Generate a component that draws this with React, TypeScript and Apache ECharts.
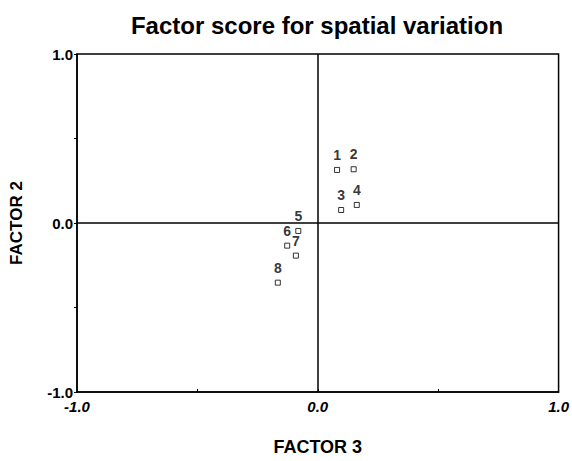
import React, { useEffect, useRef } from "react";
import * as echarts from "echarts";

const pointLabels = ["1", "2", "3", "4", "5", "6", "7", "8"];
const factor3 = [0.08, 0.149, 0.097, 0.162, -0.081, -0.127, -0.091, -0.166];
const factor2 = [0.314, 0.318, 0.077, 0.107, -0.047, -0.134, -0.193, -0.353];
const axisTicks = [-1, -0.5, 0, 0.5, 1];

const FONT = "'Liberation Sans', Arial, Helvetica, sans-serif";

export default function App() {
  const ref = useRef<HTMLDivElement>(null);
  useEffect(() => {
    if (!ref.current) return;
    const chart = echarts.init(ref.current, null, { renderer: "svg" });
    const data = pointLabels.map((n, i) => ({ name: n, value: [factor3[i], factor2[i]] }));
    const fmt = (v: number) => (Math.abs(v % 1) < 1e-9 ? v.toFixed(1) : "");
    chart.setOption({
      animation: false,
      backgroundColor: "#fff",
      title: {
        text: "Factor score for spatial variation",
        left: 312,
        textAlign: "center",
        top: 8,
        textStyle: { fontFamily: FONT, fontSize: 24, fontWeight: "bold", color: "#000" },
      },
      grid: {
        left: 73,
        right: 12,
        top: 54,
        bottom: 69,
        show: true,
        borderColor: "#000",
        borderWidth: 1.5,
        backgroundColor: "transparent",
      },
      xAxis: {
        type: "value",
        min: axisTicks[0],
        max: axisTicks[axisTicks.length - 1],
        interval: 0.5,
        name: "FACTOR 3",
        nameLocation: "middle",
        nameGap: 46,
        nameTextStyle: { fontFamily: FONT, fontSize: 18, fontWeight: "bold", color: "#000" },
        axisLine: { onZero: false, lineStyle: { color: "#000", width: 1.5 } },
        axisTick: { show: true, length: 3, inside: true, lineStyle: { color: "#000" } },
        splitLine: { show: false },
        axisLabel: {
          formatter: fmt,
          fontFamily: FONT,
          fontSize: 15,
          fontWeight: "bold",
          fontStyle: "italic",
          color: "#000",
          margin: 7,
        },
      },
      yAxis: {
        type: "value",
        min: axisTicks[0],
        max: axisTicks[axisTicks.length - 1],
        interval: 0.5,
        name: "FACTOR 2",
        nameLocation: "middle",
        nameGap: 52,
        nameTextStyle: { fontFamily: FONT, fontSize: 17, fontWeight: "bold", color: "#000" },
        axisLine: { onZero: false, lineStyle: { color: "#000", width: 1.5 } },
        axisTick: { show: true, length: 3, lineStyle: { color: "#000" } },
        splitLine: { show: false },
        axisLabel: {
          formatter: fmt,
          fontFamily: FONT,
          fontSize: 15,
          fontWeight: "bold",
          color: "#000",
          margin: 4,
        },
      },
      series: [
        {
          type: "scatter",
          data,
          symbol: "rect",
          symbolSize: 5,
          itemStyle: { color: "#fff", borderColor: "#000", borderWidth: 1 },
          label: {
            show: true,
            position: "top",
            distance: 5,
            formatter: "{b}",
            fontFamily: FONT,
            fontSize: 14,
            fontWeight: "bold",
            color: "#000",
          },
          markLine: {
            silent: true,
            symbol: "none",
            label: { show: false },
            lineStyle: { color: "#000", width: 1.5, type: "solid" },
            data: [{ xAxis: 0 }, { yAxis: 0 }],
          },
        },
      ],
    });
    return () => chart.dispose();
  }, []);
  return (
    <div
      ref={ref}
      style={{ position: "fixed", left: 0, top: 0, width: 572, height: 461, background: "#fff" }}
    />
  );
}
